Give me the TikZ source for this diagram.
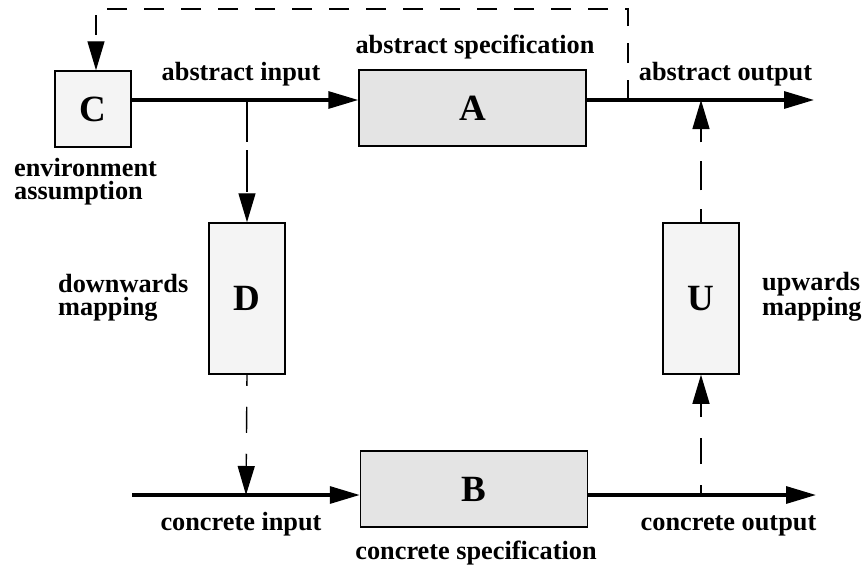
\documentclass[tikz,border=0pt]{standalone}
\usepackage{fontspec}
\setmainfont{Liberation Serif}
\usetikzlibrary{arrows.meta}
\definecolor{blockfill}{HTML}{E4E4E4}
\definecolor{mapfill}{HTML}{F4F4F4}
\tikzset{
  box/.style={draw, line width=1.5pt, inner sep=0pt,
    font=\fontsize{37}{37}\selectfont\bfseries},
  specbox/.style={box, fill=blockfill, minimum width=227pt, minimum height=76pt},
  mapbox/.style={box, fill=mapfill, minimum width=76pt, minimum height=151pt},
  envbox/.style={box, fill=mapfill, minimum width=76pt, minimum height=76pt},
  lbl/.style={inner sep=0pt, font=\fontsize{26.3}{23}\selectfont\bfseries},
  flow/.style={line width=3.2pt, -{Triangle[length=30pt,width=17pt]}},
  mapflow/.style={line width=1.4pt, dash pattern=on 26pt off 21pt,
    -{Triangle[length=29pt,width=17pt]}},
  fback/.style={line width=1.4pt, dash pattern=on 20pt off 17pt,
    -{Triangle[length=29pt,width=17pt]}},
}
\begin{document}
\begin{tikzpicture}[x=1pt, y=-1pt]
  \useasboundingbox (0,0) rectangle (865,570);

  % blocks
  \node[envbox]  (C) at (93,109)    {C};
  \node[specbox] (A) at (472.5,108) {A};
  \node[specbox] (B) at (474,489)   {B};
  \node[mapbox]  (D) at (247,298.5) {D};
  \node[mapbox]  (U) at (701,298.5) {U};

  % junctions and free ends of the signal lines
  \coordinate (ain)   at (131,100);
  \coordinate (split) at (247,100);
  \coordinate (tap)   at (628,100);
  \coordinate (join)  at (701,100);
  \coordinate (aout)  at (814,100);
  \coordinate (fbR)   at (628,9);
  \coordinate (fbL)   at (96,9);
  \coordinate (cin)   at (132,495);
  \coordinate (dj)    at (246,495);
  \coordinate (uj)    at (701,495);
  \coordinate (cout)  at (816,495);

  % abstract level
  \draw[flow] (ain) -- (split -| A.west);
  \draw[flow] (tap -| A.east) -- (aout);
  \draw[fback] (tap) -- (fbR) -- (fbL) -- (fbL |- C.north);

  % concrete level
  \draw[flow] (cin) -- (cin -| B.west);
  \draw[flow] (uj -| B.east) -- (cout);

  % mappings
  \draw[mapflow, dash pattern=on 42pt off 8pt] (split) -- (D.north);
  \draw[mapflow, dash phase=15pt] (D.south) -- (dj);
  \draw[mapflow, dash phase=16pt] (uj) -- (U.south);
  \draw[mapflow, dash pattern=on 29pt off 19pt, dash phase=16pt] (U.north) -- (join);

  % labels (multi-line ones are anchored on their last line)
  \node[lbl, anchor=base] (lai) at (241,80)   {abstract input};
  \node[lbl, anchor=base] (las) at (475,53)   {abstract specification};
  \node[lbl, anchor=base] (lao) at (725.5,80) {abstract output};
  \node[lbl, anchor=base west, align=left] (lenv) at (14,199) {environment\\assumption};
  \node[lbl, anchor=base west, align=left] (ldm) at (58,315) {downwards\\mapping};
  \node[lbl, anchor=base west, align=left] (lum) at (762,315) {upwards\\mapping};
  \node[lbl, anchor=base] (lci) at (241,530)   {concrete input};
  \node[lbl, anchor=base] (lcs) at (476,559)   {concrete specification};
  \node[lbl, anchor=base] (lco) at (728.5,530) {concrete output};
\end{tikzpicture}
\end{document}
